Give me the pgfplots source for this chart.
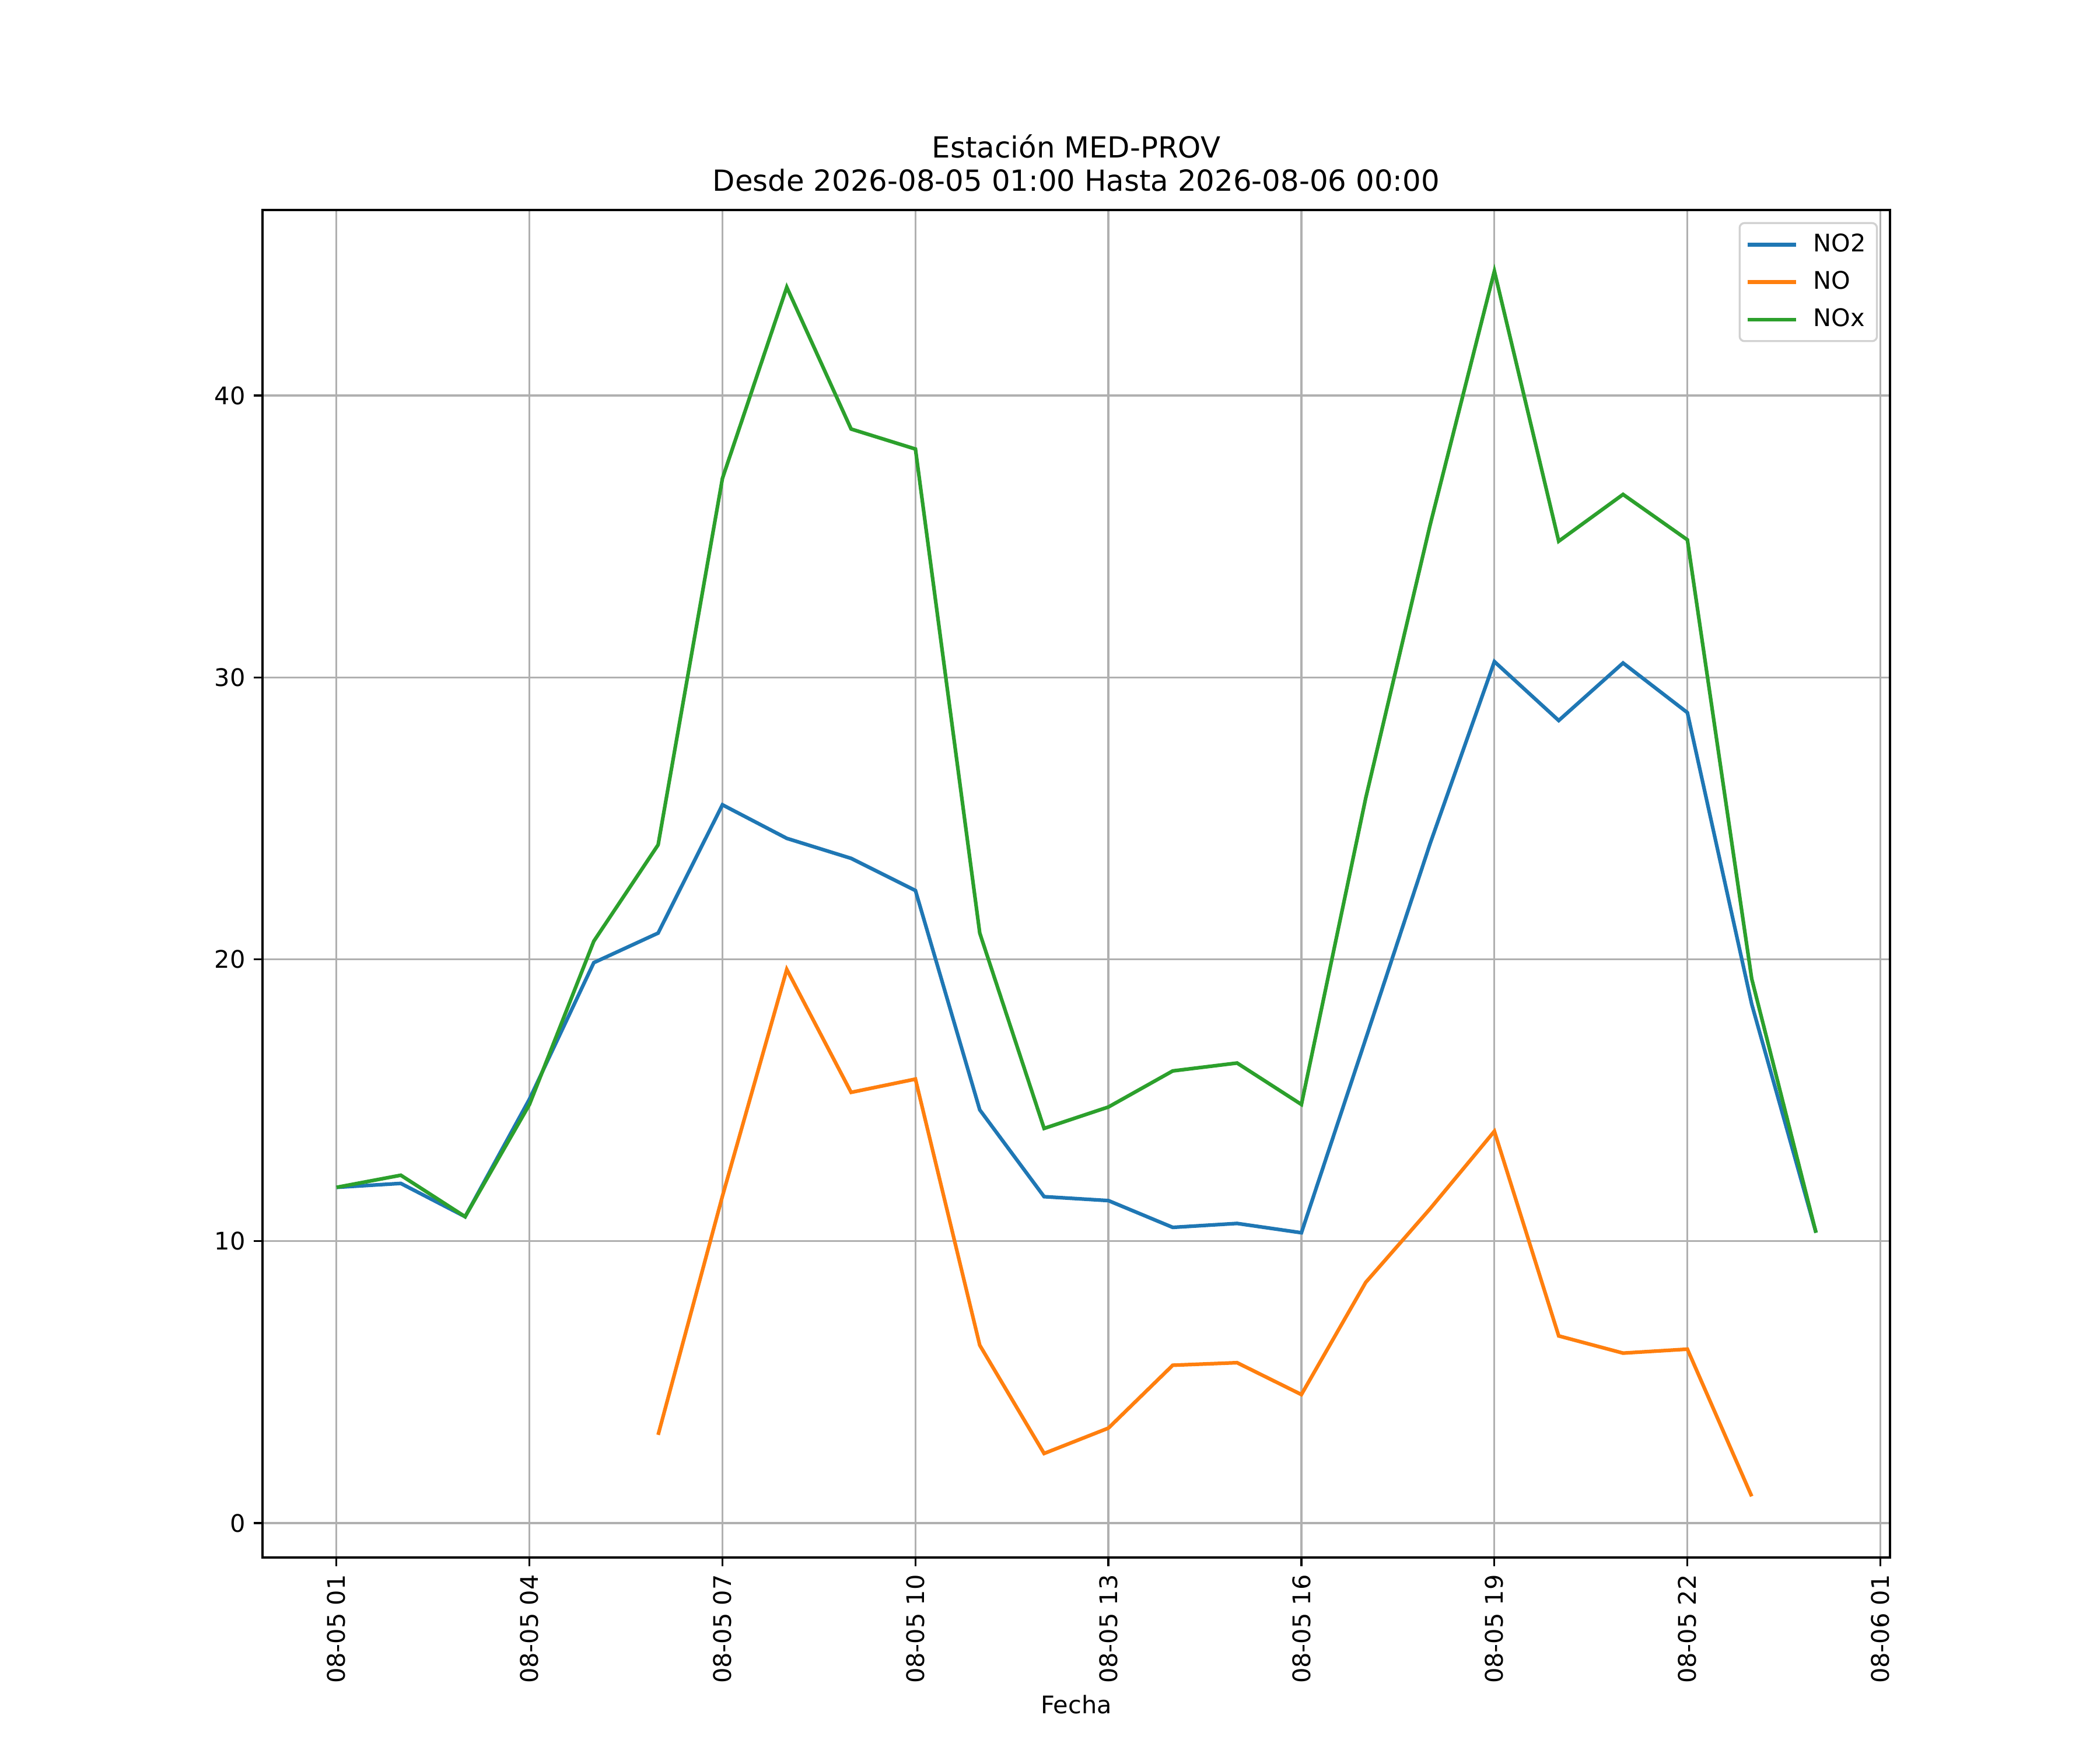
\documentclass[border=0pt]{standalone}
\usepackage{fontspec}
\setmainfont{DejaVu Sans}
\usepackage{pgfplots}
\pgfplotsset{compat=1.18}
\definecolor{c0}{HTML}{1F77B4}
\definecolor{c1}{HTML}{FF7F0E}
\definecolor{c2}{HTML}{2CA02C}
\definecolor{gridc}{HTML}{B0B0B0}
\begin{document}
\begin{tikzpicture}
\useasboundingbox (-1.5in,-1.1in) rectangle (10.5in,8.9in);
\begin{axis}[
  at={(0,0)}, anchor=south west,
  scale only axis,
  width=9.3in, height=7.7in,
  xmin=-0.15, xmax=25.15,
  ymin=-1.22, ymax=46.58,
  xtick={1,4,7,10,13,16,19,22,25},
  xticklabels={08-05 01,08-05 04,08-05 07,08-05 10,08-05 13,08-05 16,08-05 19,08-05 22,08-06 01},
  ytick={0,10,20,30,40},
  xticklabel style={rotate=90, anchor=east, font=\fontsize{10}{12}\selectfont},
  yticklabel style={font=\fontsize{10}{12}\selectfont},
  /pgf/number format/assume math mode=true,
  tick align=outside,
  major tick length=3.5pt,
  tick style={black, line width=0.8pt},
  axis line style={line width=0.8pt},
  xtick pos=bottom, ytick pos=left,
  grid=major,
  major grid style={gridc, line width=0.8pt},
  xlabel={Fecha},
  xlabel style={font=\fontsize{10}{12}\selectfont, yshift=2pt},
  title={Estación MED-PROV\\Desde 2026-08-05 01:00 Hasta 2026-08-06 00:00},
  title style={align=center, font=\fontsize{12}{13.8}\selectfont, yshift=-2pt},
  legend style={at={(1,1)}, anchor=north east, xshift=-5pt, yshift=-5pt,
    draw=black!18, line width=0.8pt, rounded corners=2pt,
    font=\fontsize{10}{12}\selectfont, row sep=2.5pt,
    inner xsep=2.5pt, inner ysep=2.5pt,
    /tikz/every odd column/.style={column sep=4.5pt}},
  legend cell align=left,
  legend image code/.code={\draw[#1, line width=1.5pt] (0pt,0pt) -- (20pt,0pt);},
  every axis plot/.append style={line width=1.5pt},
]
\addplot[c0] coordinates {
(1,11.91) (2,12.05) (3,10.87) (4,15.04) (5,19.88) (6,20.93) (7,25.48) (8,24.29)
(9,23.58) (10,22.44) (11,14.66) (12,11.58) (13,11.44) (14,10.49) (15,10.63) (16,10.30)
(17,17.18) (18,24.10) (19,30.56) (20,28.47) (21,30.51) (22,28.75) (23,18.41) (24,10.30)};
\addlegendentry{NO2}
\addplot[c1] coordinates {
(6,3.13) (7,11.60) (8,19.64) (9,15.28) (10,15.75) (11,6.31) (12,2.47) (13,3.37)
(14,5.60) (15,5.69) (16,4.56) (17,8.54) (18,11.15) (19,13.90) (20,6.64) (21,6.03)
(22,6.17) (23,0.95)};
\addlegendentry{NO}
\addplot[c2] coordinates {
(1,11.91) (2,12.34) (3,10.87) (4,14.85) (5,20.64) (6,24.06) (7,37.06) (8,43.84)
(9,38.81) (10,38.10) (11,20.93) (12,14.00) (13,14.76) (14,16.04) (15,16.32) (16,14.85)
(17,25.72) (18,35.40) (19,44.41) (20,34.83) (21,36.49) (22,34.88) (23,19.31) (24,10.30)};
\addlegendentry{NOx}
\end{axis}
\end{tikzpicture}
\end{document}
